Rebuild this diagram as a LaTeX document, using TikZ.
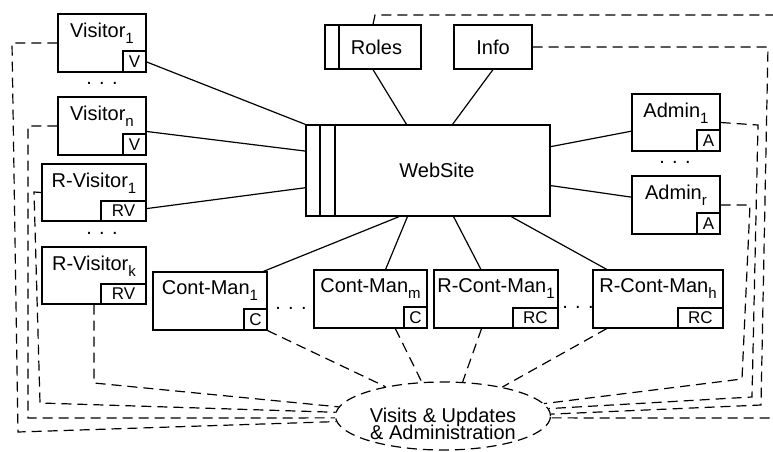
\documentclass[tikz,border=0pt]{standalone}
\usepackage{fontspec}
\setmainfont{Liberation Sans}
\usetikzlibrary{shapes.geometric}
\newcommand{\subidx}[1]{\raisebox{-2.8pt}{\fontsize{7.5}{8}\selectfont #1}}

\begin{document}
\begin{tikzpicture}[x=0.5pt, y=-0.5pt, line width=0.6pt,
  every node/.style={font=\fontsize{10}{12}\selectfont},
  ent/.style={draw, minimum height=29pt, inner sep=0pt},
  title/.style={anchor=north, inner sep=4.5pt},
  tag/.style={draw, anchor=south east, inner sep=0pt, minimum width=11.5pt, minimum height=10.5pt, font=\fontsize{8.5}{10}\selectfont},
  wtag/.style={tag, minimum width=22.5pt, minimum height=10pt},
  bar/.style={path picture={\foreach \xx in {#1} \draw ([xshift=\xx]path picture bounding box.south west) -- ([xshift=\xx]path picture bounding box.north west);}},
  dline/.style={dash pattern=on 5pt off 3pt}]
  \useasboundingbox (0,0) rectangle (773,451);
  \clip (0,0) rectangle (773,451);

  \node[ent, minimum width=44pt, label={[title]north:Visitor\subidx{1}}, label={[tag]south east:V}] (v1) at (102,43) {};
  \node[ent, minimum width=44pt, label={[title]north:Visitor\subidx{n}}, label={[tag]south east:V}] (vn) at (102,126) {};
  \node[ent, minimum width=52pt, minimum height=28.5pt, label={[title]north:R-Visitor\subidx{1}}, label={[wtag]south east:RV}] (rv1) at (94,192.5) {};
  \node[ent, minimum width=52pt, minimum height=28.5pt, label={[title]north:R-Visitor\subidx{k}}, label={[wtag]south east:RV}] (rvk) at (94,275.5) {};
  \node[ent, minimum width=57pt, label={[title]north:Cont-Man\subidx{1}}, label={[tag]south east:C}] (cm1) at (210,301) {};
  \node[ent, minimum width=56.5pt, label={[title]north:Cont-Man\subidx{m}}, label={[tag]south east:C}] (cmm) at (370.5,299) {};
  \node[ent, minimum width=62pt, label={[title]north:R-Cont-Man\subidx{1}}, label={[wtag]south east:RC}] (rcm1) at (496,299) {};
  \node[ent, minimum width=65pt, label={[title]north:R-Cont-Man\subidx{h}}, label={[wtag]south east:RC}] (rcmh) at (658,299) {};
  \node[ent, minimum width=44pt, minimum height=28.5pt, label={[title]north:Admin\subidx{1}}, label={[tag]south east:A}] (a1) at (676,122.5) {};
  \node[ent, minimum width=44pt, label={[title]north:Admin\subidx{r}}, label={[tag]south east:A}] (ar) at (676,205) {};
  \node[ent, minimum width=122pt, minimum height=45.5pt, bar={7pt,14.5pt}] (web) at (428,170.5) {\hspace*{9pt}WebSite};
  \node[ent, minimum width=48pt, minimum height=22pt, bar=7pt] (roles) at (373,47) {\hspace*{3.5pt}Roles};
  \node[ent, minimum width=39pt, minimum height=22pt] (info) at (493,47) {Info};
  \node[draw, dline, ellipse, minimum width=107.5pt, minimum height=34pt, inner sep=0pt,
    label={[align=center, yshift=-4.1pt]center:Visits \& Updates\\[-3.5pt]\& Administration}] (ell) at (443,416) {};

  \node (dv) at (102,83) {. . .};
  \node (drv) at (102,233) {. . .};
  \node (da) at (675,162) {. . .};
  \node (dc) at (291,308) {. . .};
  \node (drc) at (578,307) {. . .};

  \draw (v1.-23) -- (web.north west);
  \draw (vn.-7) -- (web.171);
  \draw (rv1.-17) -- (web.-172);
  \draw (roles.south) -- (web.115);
  \draw (info.south) -- (web.62);
  \draw (web.11) -- (a1.-169);
  \draw (web.-7) -- (ar.170);
  \draw (web.-122) -- (cm1.29);
  \draw (web.-114) -- (cmm.63);
  \draw (web.-61) -- (rcm1.117);
  \draw (web.-29) -- (rcmh.150);

  \draw[dline] (v1.west) -- (12,43) -- (18,432) -- (ell.183);
  \draw[dline] (vn.west) -- (28,126) -- (28,418) -- (ell.181);
  \draw[dline] (rv1.west) -- (34,192) -- (40,403) -- (ell.178);
  \draw[dline] (rvk.south) -- (94,383) -- (ell.175);
  \draw[dline] (cm1.south east) -- (ell.153);
  \draw[dline] (cmm.-50) -- (ell.122);
  \draw[dline] (rcm1.-116) -- (ell.60);
  \draw[dline] (rcmh.-150) -- (ell.26);
  \draw[dline] (roles.north) -- (375,15) -- (790,15) -- (790,418) -- (ell.-1);
  \draw[dline] (info.east) -- (768,47) -- (761,405) -- (ell.1);
  \draw[dline] (a1.east) -- (758,125) -- (752,397) -- (ell.4);
  \draw[dline] (ar.east) -- (750,205) -- (742,379) -- (ell.7);
\end{tikzpicture}
\end{document}
